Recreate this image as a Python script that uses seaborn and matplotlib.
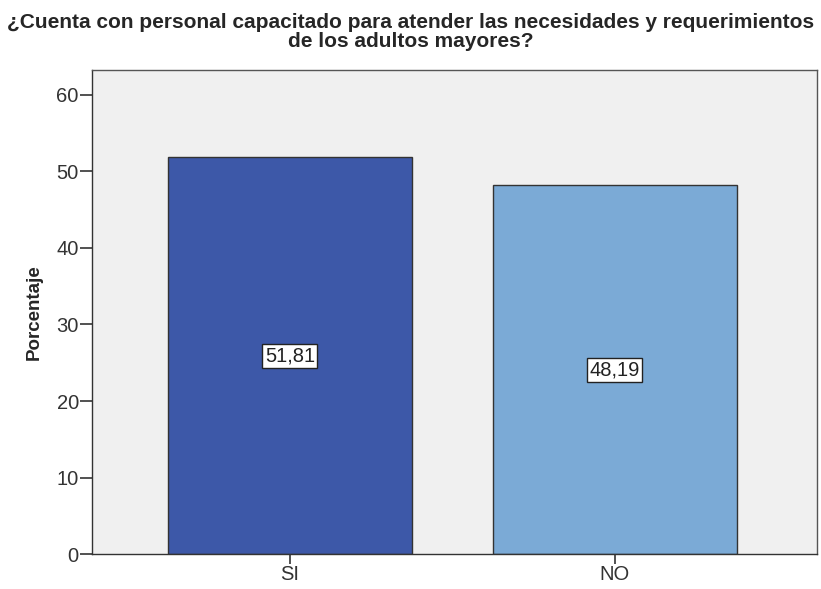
import matplotlib
matplotlib.use("Agg")
import matplotlib.pyplot as plt
import seaborn as sns
import pandas as pd

# data
categorias = ["SI", "NO"]
porcentajes = [51.81, 48.19]
etiquetas = ["51,81", "48,19"]
colores = ["#3D58A8", "#7BAAD6"]

titulo = ("¿Cuenta con personal capacitado para atender las necesidades y requerimientos\n"
          "de los adultos mayores?")

sns.set_theme(style="white")
plt.rcParams['font.family'] = ['Liberation Sans', 'DejaVu Sans']

df = pd.DataFrame({"categoria": categorias, "porcentaje": porcentajes})

fig = plt.figure(figsize=(8.21, 5.89), dpi=100)
ax = fig.add_axes([0.112, 0.059, 0.883, 0.822])
ax.set_facecolor("#F0F0F0")

sns.barplot(data=df, x="categoria", y="porcentaje", hue="categoria",
            palette=colores, order=categorias, width=0.75, saturation=1,
            edgecolor="#333333", linewidth=1.0, legend=False, ax=ax)

# value labels in the middle of each bar
for i, (v, t) in enumerate(zip(porcentajes, etiquetas)):
    ax.text(i, v / 2, t, ha="center", va="center", fontsize=14.5, color="#222222",
            bbox=dict(boxstyle="square,pad=0.12", facecolor="white",
                      edgecolor="#222222", linewidth=1.0))

ax.set_xlim(-0.609, 1.622)
ax.set_ylim(0, 63.2)
ax.set_yticks([0, 10, 20, 30, 40, 50, 60])
ax.set_xlabel("")
ax.set_ylabel("Porcentaje", fontsize=13.5, fontweight="bold", labelpad=10)

for s in ax.spines.values():
    s.set_color("#555555")
    s.set_linewidth(1.0)
ax.spines["left"].set_color("#333333")
ax.spines["bottom"].set_color("#333333")

ax.tick_params(axis="both", which="both", direction="out", length=8.5, width=1.2,
               color="#333333", labelsize=14.5, labelcolor="#333333", pad=1,
               left=True, bottom=True)
ax.tick_params(axis="x", length=7)

fig.suptitle(titulo, fontsize=15, fontweight="bold", y=0.978, linespacing=1.0)

fig.savefig("out.png", dpi=100)
